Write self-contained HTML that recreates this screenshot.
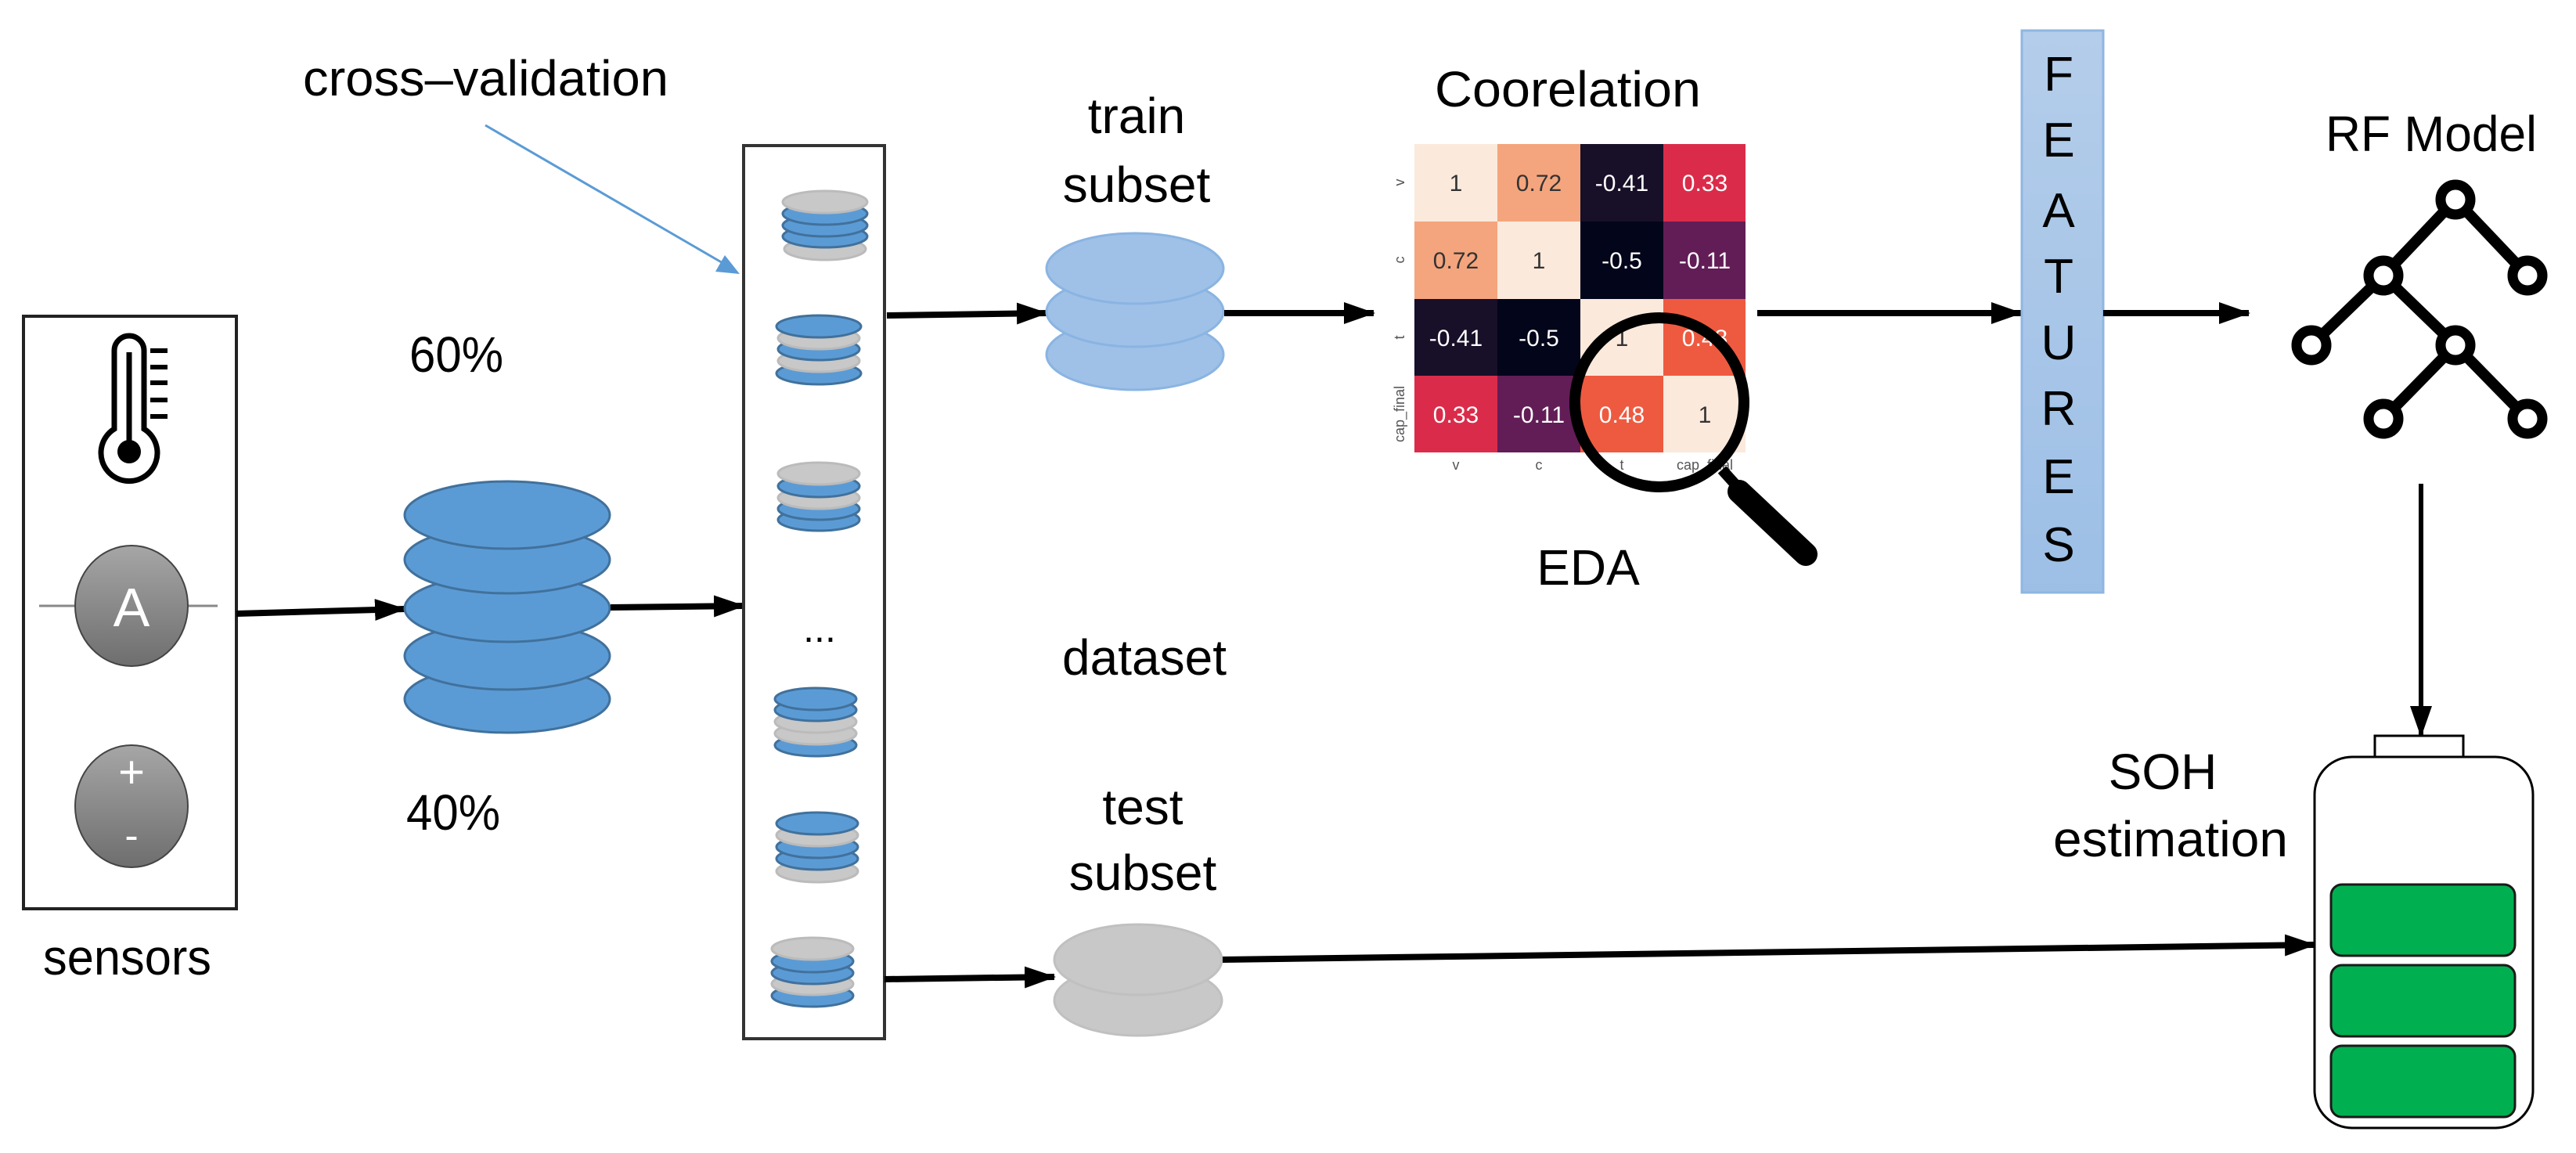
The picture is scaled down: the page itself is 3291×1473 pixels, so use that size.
<!DOCTYPE html>
<html><head><meta charset="utf-8"><style>html,body{margin:0;padding:0;background:#fff}svg{display:block}text{font-family:"Liberation Sans",sans-serif}</style></head><body>
<svg width="3291" height="1473" viewBox="0 0 3291 1473" xmlns="http://www.w3.org/2000/svg">
<defs>
<marker id="ah" markerWidth="40" markerHeight="32" refX="38" refY="16" orient="auto" markerUnits="userSpaceOnUse" viewBox="0 0 40 32"><path d="M0,2 L40,16 L0,30 z" fill="#000"/></marker>
<linearGradient id="gg" x1="0" y1="0" x2="0" y2="1"><stop offset="0" stop-color="#a6a6a6"/><stop offset="1" stop-color="#6e6e6e"/></linearGradient>
<linearGradient id="fg" x1="0" y1="0" x2="0" y2="1"><stop offset="0" stop-color="#b4cdea"/><stop offset="1" stop-color="#9dbfe6"/></linearGradient>
</defs>

<!-- sensors -->
<rect x="30" y="404" width="272" height="757" fill="#fff" stroke="#222" stroke-width="4"/>
<path d="M146,548 V448 a19,19 0 0 1 38,0 V548 a36,36 0 1 1 -38,0 z" fill="none" stroke="#000" stroke-width="7"/>
<line x1="165" y1="450" x2="165" y2="570" stroke="#000" stroke-width="7"/>
<circle cx="165" cy="577" r="15" fill="#000"/>
<g stroke="#000" stroke-width="6"><line x1="192" y1="448" x2="214" y2="448"/><line x1="192" y1="469" x2="214" y2="469"/><line x1="192" y1="489" x2="214" y2="489"/><line x1="192" y1="511" x2="214" y2="511"/><line x1="192" y1="532" x2="214" y2="532"/></g>
<line x1="50" y1="774" x2="278" y2="774" stroke="#888" stroke-width="3"/>
<ellipse cx="168" cy="774" rx="72" ry="77" fill="url(#gg)" stroke="#444" stroke-width="2"/>
<text x="168" y="800" font-size="70" fill="#fff" text-anchor="middle">A</text>
<ellipse cx="168" cy="1030" rx="72" ry="78" fill="url(#gg)" stroke="#444" stroke-width="2"/>
<text x="168" y="1006" font-size="58" fill="#fff" text-anchor="middle">+</text>
<text x="168" y="1085" font-size="52" fill="#fff" text-anchor="middle">-</text>
<text x="55" y="1245" font-size="64" textLength="215" lengthAdjust="spacingAndGlyphs">sensors</text>

<line x1="302" y1="784" x2="517" y2="778" stroke="#000" stroke-width="8" marker-end="url(#ah)"/>

<g fill="#5b9bd5" stroke="#41719c" stroke-width="3">
<ellipse cx="648" cy="893" rx="131" ry="43"/>
<ellipse cx="648" cy="838" rx="131" ry="43"/>
<ellipse cx="648" cy="777" rx="131" ry="43"/>
<ellipse cx="648" cy="715" rx="131" ry="43"/>
<ellipse cx="648" cy="658" rx="131" ry="43"/>
</g>
<text x="523" y="475" font-size="64" textLength="120" lengthAdjust="spacingAndGlyphs">60%</text>
<text x="519" y="1060" font-size="64" textLength="120" lengthAdjust="spacingAndGlyphs">40%</text>

<line x1="780" y1="776" x2="950" y2="774" stroke="#000" stroke-width="8" marker-end="url(#ah)"/>

<text x="387" y="122" font-size="64" textLength="467" lengthAdjust="spacingAndGlyphs">cross–validation</text>
<line x1="620" y1="160" x2="925" y2="337" stroke="#5b9bd5" stroke-width="3"/>
<path d="M945,350 L914,347 L926,326 z" fill="#5b9bd5"/>

<rect x="950" y="186" width="180" height="1141" fill="none" stroke="#333" stroke-width="4"/>

<g stroke-width="3">
<g transform="translate(1054,0)">
<ellipse cy="318" rx="52" ry="14" fill="#c8c8c8" stroke="#bbb"/>
<ellipse cy="302" rx="54" ry="14" fill="#5b9bd5" stroke="#41719c"/>
<ellipse cy="288" rx="54" ry="14" fill="#5b9bd5" stroke="#41719c"/>
<ellipse cy="273" rx="54" ry="14" fill="#5b9bd5" stroke="#41719c"/>
<ellipse cy="258" rx="54" ry="14" fill="#c8c8c8" stroke="#bbb"/>
</g>
<g transform="translate(1046,0)">
<ellipse cy="477" rx="54" ry="14" fill="#5b9bd5" stroke="#41719c"/>
<ellipse cy="461" rx="52" ry="14" fill="#c8c8c8" stroke="#bbb"/>
<ellipse cy="446" rx="52" ry="14" fill="#5b9bd5" stroke="#41719c"/>
<ellipse cy="432" rx="52" ry="14" fill="#c8c8c8" stroke="#bbb"/>
<ellipse cy="417" rx="54" ry="14" fill="#5b9bd5" stroke="#41719c"/>
</g>
<g transform="translate(1046,0)">
<ellipse cy="664" rx="52" ry="14" fill="#5b9bd5" stroke="#41719c"/>
<ellipse cy="650" rx="52" ry="14" fill="#5b9bd5" stroke="#41719c"/>
<ellipse cy="636" rx="52" ry="14" fill="#c8c8c8" stroke="#bbb"/>
<ellipse cy="621" rx="52" ry="14" fill="#5b9bd5" stroke="#41719c"/>
<ellipse cy="605" rx="52" ry="14" fill="#c8c8c8" stroke="#bbb"/>
</g>
<g transform="translate(1042,0)">
<ellipse cy="952" rx="52" ry="14" fill="#5b9bd5" stroke="#41719c"/>
<ellipse cy="937" rx="52" ry="14" fill="#c8c8c8" stroke="#bbb"/>
<ellipse cy="922" rx="52" ry="14" fill="#c8c8c8" stroke="#bbb"/>
<ellipse cy="907" rx="52" ry="14" fill="#5b9bd5" stroke="#41719c"/>
<ellipse cy="893" rx="52" ry="14" fill="#5b9bd5" stroke="#41719c"/>
</g>
<g transform="translate(1044,0)">
<ellipse cy="1113" rx="52" ry="14" fill="#c8c8c8" stroke="#bbb"/>
<ellipse cy="1097" rx="52" ry="14" fill="#5b9bd5" stroke="#41719c"/>
<ellipse cy="1082" rx="52" ry="14" fill="#5b9bd5" stroke="#41719c"/>
<ellipse cy="1067" rx="52" ry="14" fill="#c8c8c8" stroke="#bbb"/>
<ellipse cy="1052" rx="52" ry="14" fill="#5b9bd5" stroke="#41719c"/>
</g>
<g transform="translate(1038,0)">
<ellipse cy="1272" rx="52" ry="14" fill="#5b9bd5" stroke="#41719c"/>
<ellipse cy="1257" rx="52" ry="14" fill="#c8c8c8" stroke="#bbb"/>
<ellipse cy="1243" rx="52" ry="14" fill="#5b9bd5" stroke="#41719c"/>
<ellipse cy="1228" rx="52" ry="14" fill="#5b9bd5" stroke="#41719c"/>
<ellipse cy="1212" rx="52" ry="14" fill="#c8c8c8" stroke="#bbb"/>
</g>
</g>
<text x="1047" y="820" font-size="50" text-anchor="middle">...</text>

<line x1="1133" y1="403" x2="1337" y2="400" stroke="#000" stroke-width="8" marker-end="url(#ah)"/>
<text x="1452" y="170" font-size="64" text-anchor="middle">train</text>
<text x="1452" y="258" font-size="64" text-anchor="middle">subset</text>
<g fill="#9fc1e7" stroke="#8ab4e2" stroke-width="3">
<ellipse cx="1450" cy="453" rx="113" ry="45"/>
<ellipse cx="1450" cy="398" rx="113" ry="45"/>
<ellipse cx="1450" cy="343" rx="113" ry="45"/>
</g>
<line x1="1564" y1="400" x2="1755" y2="400" stroke="#000" stroke-width="8" marker-end="url(#ah)"/>

<text x="1462" y="862" font-size="64" text-anchor="middle">dataset</text>

<text x="1460" y="1053" font-size="64" text-anchor="middle">test</text>
<text x="1460" y="1137" font-size="64" text-anchor="middle">subset</text>
<line x1="1130" y1="1251" x2="1347" y2="1248" stroke="#000" stroke-width="8" marker-end="url(#ah)"/>
<g fill="#c8c8c8" stroke="#c0c0c0" stroke-width="3">
<ellipse cx="1454" cy="1278" rx="107" ry="45"/>
<ellipse cx="1454" cy="1226" rx="107" ry="45"/>
</g>
<line x1="1562" y1="1226" x2="2957" y2="1207" stroke="#000" stroke-width="8" marker-end="url(#ah)"/>

<text x="1833" y="136" font-size="64" textLength="340" lengthAdjust="spacingAndGlyphs">Coorelation</text>
<g font-size="30" text-anchor="middle">
<rect x="1807" y="184" width="106" height="99" fill="#fbe9dc"/><text x="1860" y="244" fill="#333">1</text>
<rect x="1913" y="184" width="106" height="99" fill="#f4a57d"/><text x="1966" y="244" fill="#333">0.72</text>
<rect x="2019" y="184" width="106" height="99" fill="#180f29"/><text x="2072" y="244" fill="#fff">-0.41</text>
<rect x="2125" y="184" width="105" height="99" fill="#da2c4a"/><text x="2178" y="244" fill="#fff">0.33</text>
<rect x="1807" y="283" width="106" height="99" fill="#f4a57d"/><text x="1860" y="343" fill="#333">0.72</text>
<rect x="1913" y="283" width="106" height="99" fill="#fbe9dc"/><text x="1966" y="343" fill="#333">1</text>
<rect x="2019" y="283" width="106" height="99" fill="#03051a"/><text x="2072" y="343" fill="#fff">-0.5</text>
<rect x="2125" y="283" width="105" height="99" fill="#621d56"/><text x="2178" y="343" fill="#fff">-0.11</text>
<rect x="1807" y="382" width="106" height="98" fill="#180f29"/><text x="1860" y="442" fill="#fff">-0.41</text>
<rect x="1913" y="382" width="106" height="98" fill="#03051a"/><text x="1966" y="442" fill="#fff">-0.5</text>
<rect x="2019" y="382" width="106" height="98" fill="#fbe9dc"/><text x="2072" y="442" fill="#333">1</text>
<rect x="2125" y="382" width="105" height="98" fill="#ee5a40"/><text x="2178" y="442" fill="#fff">0.48</text>
<rect x="1807" y="480" width="106" height="98" fill="#da2c4a"/><text x="1860" y="540" fill="#fff">0.33</text>
<rect x="1913" y="480" width="106" height="98" fill="#621d56"/><text x="1966" y="540" fill="#fff">-0.11</text>
<rect x="2019" y="480" width="106" height="98" fill="#ee5a40"/><text x="2072" y="540" fill="#fff">0.48</text>
<rect x="2125" y="480" width="105" height="98" fill="#fbe9dc"/><text x="2178" y="540" fill="#333">1</text>
</g>
<g font-size="18" fill="#555" text-anchor="middle">
<text x="1860" y="600">v</text><text x="1966" y="600">c</text><text x="2072" y="600">t</text><text x="2178" y="600">cap_final</text>
<text transform="translate(1794,233) rotate(-90)">v</text>
<text transform="translate(1794,332) rotate(-90)">c</text>
<text transform="translate(1794,431) rotate(-90)">t</text>
<text transform="translate(1794,529) rotate(-90)">cap_final</text>
</g>
<circle cx="2120" cy="514" r="108" fill="none" stroke="#000" stroke-width="14"/>
<line x1="2200" y1="600" x2="2218" y2="620" stroke="#000" stroke-width="14"/>
<line x1="2222" y1="628" x2="2307" y2="708" stroke="#000" stroke-width="30" stroke-linecap="round"/>
<text x="2029" y="747" font-size="64" text-anchor="middle">EDA</text>

<line x1="2245" y1="400" x2="2582" y2="400" stroke="#000" stroke-width="8" marker-end="url(#ah)"/>

<rect x="2583" y="39" width="104" height="718" fill="url(#fg)" stroke="#8fb6e2" stroke-width="3"/>
<g font-size="62" text-anchor="middle">
<text x="2630" y="116">F</text><text x="2630" y="200">E</text><text x="2630" y="290">A</text><text x="2630" y="374">T</text><text x="2630" y="459">U</text><text x="2630" y="543">R</text><text x="2630" y="630">E</text><text x="2630" y="717">S</text>
</g>
<line x1="2687" y1="400" x2="2873" y2="400" stroke="#000" stroke-width="8" marker-end="url(#ah)"/>

<text x="2971" y="193" font-size="64" textLength="270" lengthAdjust="spacingAndGlyphs">RF Model</text>
<g stroke="#000" stroke-width="14">
<line x1="3137" y1="255" x2="3045" y2="352"/><line x1="3137" y1="255" x2="3229" y2="352"/>
<line x1="3045" y1="352" x2="2953" y2="441"/><line x1="3045" y1="352" x2="3137" y2="441"/>
<line x1="3137" y1="441" x2="3045" y2="535"/><line x1="3137" y1="441" x2="3229" y2="535"/>
</g>
<g fill="#fff" stroke="#000" stroke-width="13">
<circle cx="3137" cy="255" r="19"/><circle cx="3045" cy="352" r="19"/><circle cx="3229" cy="352" r="19"/>
<circle cx="2953" cy="441" r="19"/><circle cx="3137" cy="441" r="19"/><circle cx="3045" cy="535" r="19"/><circle cx="3229" cy="535" r="19"/>
</g>
<line x1="3093" y1="618" x2="3093" y2="940" stroke="#000" stroke-width="6" marker-end="url(#ah)"/>

<text x="2763" y="1008" font-size="64" text-anchor="middle">SOH</text>
<text x="2773" y="1094" font-size="64" text-anchor="middle" textLength="300" lengthAdjust="spacingAndGlyphs">estimation</text>
<rect x="3034" y="940" width="113" height="28" fill="#fff" stroke="#000" stroke-width="3"/>
<rect x="2957" y="967" width="279" height="474" rx="48" fill="#fff" stroke="#000" stroke-width="3"/>
<g fill="#00b050" stroke="#1a1a1a" stroke-width="3">
<rect x="2978" y="1130" width="235" height="91" rx="14"/>
<rect x="2978" y="1233" width="235" height="91" rx="14"/>
<rect x="2978" y="1336" width="235" height="91" rx="14"/>
</g>
</svg>
</body></html>
